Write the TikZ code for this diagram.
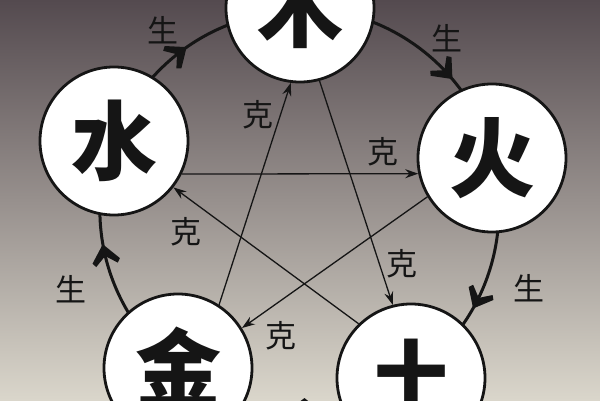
\documentclass[tikz,border=0pt]{standalone}
\usepackage{fontspec}
\newfontfamily\cjk{Noto Sans CJK SC}
\usetikzlibrary{arrows.meta,decorations.markings}
\pgfdeclarelayer{background}
\pgfsetlayers{background,main}
\definecolor{bgtop}{HTML}{544A4F}
\definecolor{bgmid}{HTML}{A0978F}
\definecolor{bgbot}{HTML}{DAD6CB}
\definecolor{ink}{HTML}{151515}
\tikzset{
  elem/.style={circle, draw=ink, line width=2.8pt, fill=white, minimum size=148pt, inner sep=0pt,
    font=\cjk\bfseries\fontsize{86}{86}\selectfont, text=ink},
  lbl/.style={font=\cjk\fontsize{31}{31}\selectfont, text=ink, inner sep=0pt},
  ke/.style={draw=ink, line width=1.3pt, -{Stealth[length=13pt,width=9pt]}},
  sheng/.style={draw=ink, line width=3pt,
    decoration={markings, mark=at position #1 with {\fill[ink] (6pt,0pt) -- (-11pt,14pt) -- (-15pt,11pt) -- (-6pt,0pt) -- (-15pt,-11pt) -- (-11pt,-14pt) -- cycle;}},
    postaction=decorate}
}
\begin{document}
\begin{tikzpicture}[x=1pt,y=1pt]
\useasboundingbox (0,0) rectangle (600,400);

\node[elem] (mu) at (300,392) {木};
\node[elem] (huo) at (492,242) {火};
\node[elem] (tu) at (411,22) {土};
\node[elem] (jin) at (178,32) {金};
\node[elem] (shui) at (114,259) {水};

\begin{pgfonlayer}{background}
\shade[top color=bgtop, middle color=bgmid, bottom color=bgbot] (0,0) rectangle (600,400);
% sheng cycle: arcs of the great circle from centre to centre
\draw[sheng=0.47] (shui.center) arc[start angle=159.5, end angle=89.7, radius=200];
\draw[sheng=0.64] (mu.center) arc[start angle=89.7, end angle=15.1, radius=201];
\draw[sheng=0.6] (huo.center) arc[start angle=15.1, end angle=-56.3, radius=200];
\draw[sheng=0.5] (tu.center) arc[start angle=-56.3, end angle=-127.4, radius=201];
\draw[sheng=0.56] (jin.center) arc[start angle=232.6, end angle=159.5, radius=199];
\end{pgfonlayer}

% ke star
\draw[ke] (jin.57) -- (mu.263);
\draw[ke] (mu.285) -- (tu.104);
\draw[ke] (shui.-26) -- (huo.192);
\draw[ke] (huo.211) -- (jin.32);
\draw[ke] (tu.134) -- (shui.-38);

% labels
\node[lbl] (s1) at (163,370) {生};
\node[lbl] (s2) at (447,362) {生};
\node[lbl] (s3) at (529,112) {生};
\node[lbl] (s4) at (71,111) {生};
\node[lbl] (k1) at (258,285) {克};
\node[lbl] (k2) at (383,248) {克};
\node[lbl] (k3) at (186,168) {克};
\node[lbl] (k4) at (402,136) {克};
\node[lbl] (k5) at (281,64) {克};
\end{tikzpicture}
\end{document}
